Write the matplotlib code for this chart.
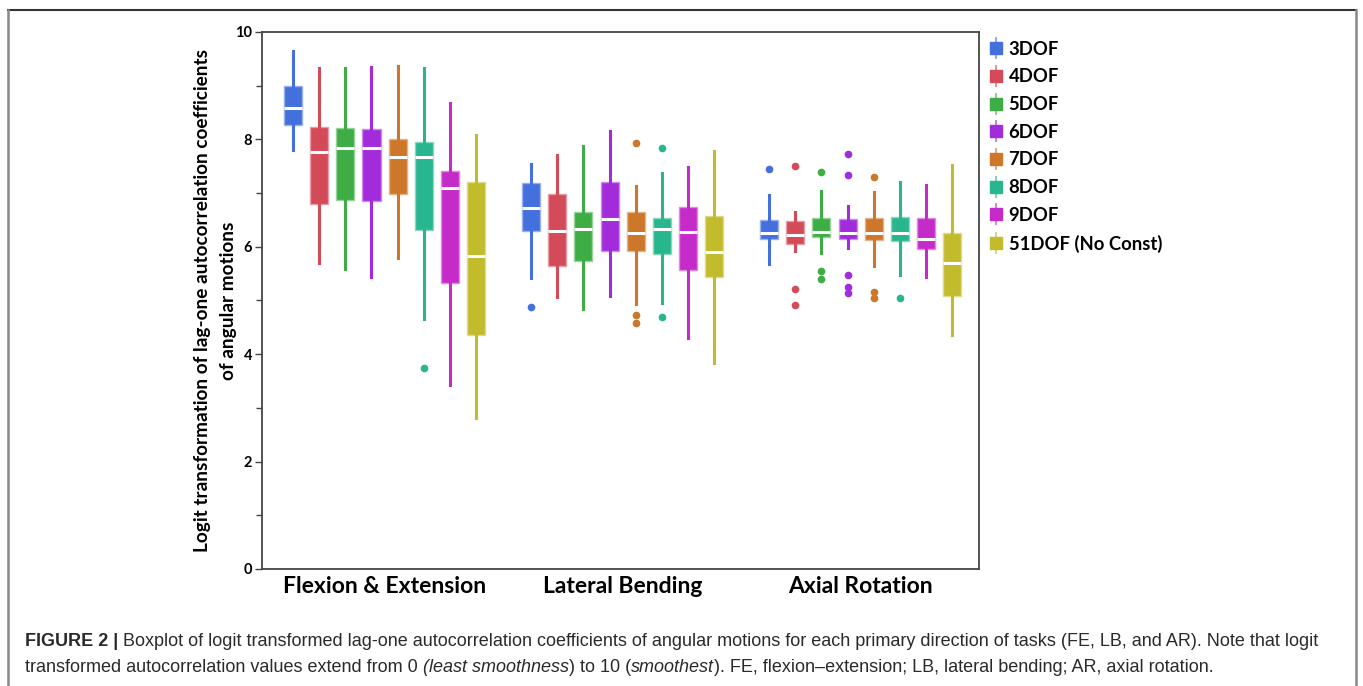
import matplotlib
matplotlib.use('Agg')
import matplotlib.pyplot as plt
from matplotlib import font_manager
from matplotlib.colors import to_rgb
from matplotlib.lines import Line2D
from matplotlib.legend_handler import HandlerTuple

# datos
grupos = ['Flexion & Extension', 'Lateral Bending', 'Axial Rotation']
etiquetas = ['3DOF', '4DOF', '5DOF', '6DOF', '7DOF', '8DOF', '9DOF', '51DOF (No Const)']
colores = ['#4370DD', '#D34A59', '#3EAD46', '#A22CDB', '#CC7729', '#28B68F', '#C52BC9', '#C2BB2C']

fe_hi = [9.65, 9.32, 9.32, 9.35, 9.37, 9.32, 8.67, 8.09]
fe_q3 = [9.00, 8.23, 8.21, 8.19, 8.01, 7.96, 7.42, 7.21]
fe_med = [8.59, 7.77, 7.84, 7.84, 7.67, 7.67, 7.10, 5.82]
fe_q1 = [8.26, 6.80, 6.87, 6.85, 6.99, 6.31, 5.32, 4.36]
fe_lo = [7.80, 5.70, 5.59, 5.43, 5.80, 4.66, 3.43, 2.82]
fe_out = [[], [], [], [], [], [3.74], [], []]

lb_hi = [7.55, 7.71, 7.88, 8.16, 7.13, 7.38, 7.48, 7.79]
lb_q3 = [7.18, 6.98, 6.65, 7.21, 6.65, 6.54, 6.74, 6.58]
lb_med = [6.73, 6.29, 6.34, 6.51, 6.26, 6.34, 6.27, 5.90]
lb_q1 = [6.29, 5.64, 5.74, 5.93, 5.93, 5.87, 5.56, 5.43]
lb_lo = [5.41, 5.07, 4.84, 5.08, 4.93, 4.95, 4.30, 3.84]
lb_out = [[4.87], [], [], [], [7.94, 4.73, 4.58], [7.83, 4.69], [], []]

ar_hi = [6.96, 6.65, 7.04, 6.75, 7.02, 7.21, 7.15, 7.52]
ar_q3 = [6.50, 6.48, 6.54, 6.52, 6.54, 6.56, 6.54, 6.25]
ar_med = [6.25, 6.21, 6.28, 6.26, 6.26, 6.25, 6.14, 5.70]
ar_q1 = [6.15, 6.06, 6.18, 6.15, 6.13, 6.10, 5.95, 5.08]
ar_lo = [5.67, 5.93, 5.89, 5.98, 5.64, 5.47, 5.43, 4.35]
ar_out = [[7.44], [7.50, 5.21, 4.92], [7.40, 5.54, 5.40], [7.72, 7.34, 5.47, 5.25, 5.13],
          [7.30, 5.16, 5.05], [5.05], [], []]

datos = [
    (fe_lo, fe_q1, fe_med, fe_q3, fe_hi, fe_out),
    (lb_lo, lb_q1, lb_med, lb_q3, lb_hi, lb_out),
    (ar_lo, ar_q1, ar_med, ar_q3, ar_hi, ar_out),
]

disponibles = {f.name for f in font_manager.fontManager.ttflist}
fuente = 'Lato' if 'Lato' in disponibles else 'DejaVu Sans'
fuente_pie = 'Liberation Sans Narrow' if 'Liberation Sans Narrow' in disponibles else 'Liberation Sans'
plt.rcParams['font.family'] = [fuente, 'DejaVu Sans']


def aclarar(c, f=0.45):
    r, g, b = to_rgb(c)
    return (r + (1 - r) * f, g + (1 - g) * f, b + (1 - b) * f)


fig = plt.figure(figsize=(13.63, 6.86), dpi=100)
ax = fig.add_axes([0.1922, 0.1706, 0.5261, 0.7828])

paso = 0.11
ancho = 0.076
for g, (lo, q1, med, q3, hi, out) in enumerate(datos):
    for k in range(len(etiquetas)):
        stats = [{'whislo': lo[k], 'q1': q1[k], 'med': med[k], 'q3': q3[k],
                  'whishi': hi[k], 'fliers': out[k]}]
        pos = g + (k - 3.5) * paso
        col = colores[k]
        ax.bxp(stats, positions=[pos], widths=ancho, patch_artist=True,
               showcaps=False, manage_ticks=False,
               boxprops={'facecolor': col, 'edgecolor': aclarar(col), 'linewidth': 1.0},
               medianprops={'color': 'white', 'linewidth': 2.2},
               whiskerprops={'color': col, 'linewidth': 2.2},
               flierprops={'marker': 'o', 'markerfacecolor': col, 'markeredgecolor': col,
                           'markersize': 4.5})

ax.set_xlim(-0.515, 2.497)
ax.set_ylim(0, 10)
ax.set_xticks(range(len(grupos)))
ax.set_xticklabels(grupos, fontsize=16.5, fontweight='bold')
ax.tick_params(axis='x', length=0, pad=5)
ax.set_yticks([0, 2, 4, 6, 8, 10])
ax.set_yticks([1, 3, 5, 7, 9], minor=True)
ax.tick_params(axis='y', which='major', length=5, width=1, labelsize=10.5, color='#444444', pad=2)
ax.tick_params(axis='y', which='minor', length=4, width=1, color='#444444')
for t in ax.get_yticklabels():
    t.set_fontweight('bold')
for s in ax.spines.values():
    s.set_color('#444444')
    s.set_linewidth(1.3)
ax.set_ylabel('Logit transformation of lag-one autocorrelation coefficients\nof angular motions',
              fontsize=13.7, fontweight='bold', labelpad=-1, linespacing=1.6)

handles = []
for col in colores:
    linea = Line2D([], [], linestyle='none', marker='|', markersize=16, markeredgewidth=1.3,
                   color=aclarar(col, 0.35))
    caja = Line2D([], [], linestyle='none', marker='s', markersize=8.5, color=col)
    handles.append((linea, caja))
ax.legend(handles, etiquetas, handler_map={tuple: HandlerTuple(ndivide=1)},
          loc='upper left', bbox_to_anchor=(0.996, 1.008), frameon=False,
          prop={'family': fuente, 'weight': 'bold', 'size': 13.3},
          handlelength=0.8, handletextpad=0.25, labelspacing=0.58, borderaxespad=0.3)

# marco de la figura
W, H = 1363, 686
fig.add_artist(Line2D([8 / W, 1356 / W], [1 - 10 / H, 1 - 10 / H], color='#333333', lw=1.5))
fig.add_artist(Line2D([8 / W, 8 / W], [0, 1 - 10 / H], color='#888888', lw=1.8))
fig.add_artist(Line2D([1356 / W, 1356 / W], [0, 1 - 10 / H], color='#888888', lw=1.8))

# pie de figura
lineas = [
    [('FIGURE 2 | ', 'bold', 'normal'),
     ('Boxplot of logit transformed lag-one autocorrelation coefficients of angular motions '
      'for each primary direction of tasks (FE, LB, and AR). Note that logit', 'normal', 'normal')],
    [('transformed autocorrelation values extend from 0 ', 'normal', 'normal'),
     ('(least smoothness', 'normal', 'italic'),
     (') to 10 (', 'normal', 'normal'),
     ('smoothest', 'normal', 'italic'),
     ('). FE, flexion\u2013extension; LB, lateral bending; AR, axial rotation.', 'normal', 'normal')],
]
ys = [1 - 641 / H, 1 - 668 / H]
renderer = fig.canvas.get_renderer()


def escribir(tamano, dibujar=True):
    textos = []
    ancho_max = 0
    for segs, y in zip(lineas, ys):
        x = 25
        for texto, peso, estilo in segs:
            t = fig.text(x / W, y, texto, fontsize=tamano, fontweight=peso, fontstyle=estilo,
                         family=[fuente_pie, 'DejaVu Sans'], color='#2a2a2a', va='center')
            x = t.get_window_extent(renderer).x1
            textos.append(t)
        ancho_max = max(ancho_max, x - 25)
    if not dibujar:
        for t in textos:
            t.remove()
    return ancho_max


medida = escribir(12, dibujar=False)
escribir(12 * 1295 / medida)

fig.savefig('out.png', dpi=100)
